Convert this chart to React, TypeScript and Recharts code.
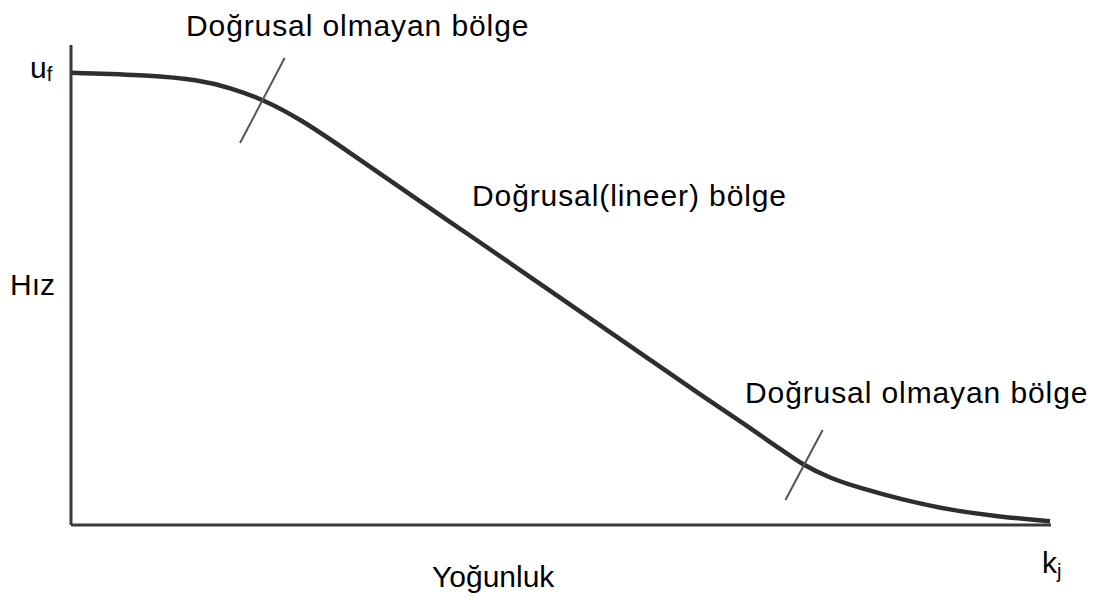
import React from "react";
import {
  ComposedChart,
  Line,
  XAxis,
  YAxis,
  ReferenceLine,
  Customized,
} from "recharts";

// speed–density curve (normalised: density 0..100, speed 0..100)
const density = [0, 8.0, 13.2, 16.2, 19.5, 23.4, 28.5, 33.6, 38.7, 43.8, 48.9, 54.0, 59.1, 64.2, 69.3, 72.4, 74.7, 77.4, 80.5, 84.6, 89.7, 94.8, 99.9];
const speed = [94.2, 93.75, 92.7, 91.1, 88.75, 84.6, 77.5, 70.3, 63.1, 56.0, 48.75, 41.6, 34.4, 27.2, 20.2, 15.8, 12.5, 9.8, 7.7, 5.4, 3.1, 1.7, 0.8];

// free-flow speed and jam density tick positions
const freeFlowSpeed = 94.2;
const jamDensity = 100;

// short slashes marking where the linear region starts and ends
const upperMarker = [
  { x: 17.25, y: 79.6 },
  { x: 21.8, y: 97.3 },
];
const lowerMarker = [
  { x: 72.9, y: 5.2 },
  { x: 76.7, y: 19.8 },
];

const data = density.map((k, i) => ({ k, u: speed[i] }));

const FONT = "'Liberation Sans', Arial, sans-serif";

const UfTick = ({ x, y }: any) => (
  <text x={x - 41} y={y + 5} fontFamily={FONT} fontSize={30} fill="#000">
    u
    <tspan fontSize={20} dy={3}>f</tspan>
  </text>
);

const KjTick = ({ x, y }: any) => (
  <text x={x - 9} y={y + 48} fontFamily={FONT} fontSize={30} fill="#000">
    k
    <tspan fontSize={20} dy={5}>j</tspan>
  </text>
);

const Annotations = () => (
  <g fontFamily={FONT} fontSize={30} fill="#000">
    <text x={186} y={36} letterSpacing={0.9}>Doğrusal olmayan bölge</text>
    <text x={472} y={206} letterSpacing={0.9}>Doğrusal(lineer) bölge</text>
    <text x={745} y={403} letterSpacing={0.9}>Doğrusal olmayan bölge</text>
    <text x={10} y={295}>Hız</text>
    <text x={432} y={587}>Yoğunluk</text>
  </g>
);

export default function App() {
  return (
    <div style={{ width: 1103, height: 600, background: "#fff" }}>
      <style>{`body { margin: 0; }`}</style>
      <ComposedChart
        width={1103}
        height={600}
        data={data}
        margin={{ top: 45, right: 52, bottom: 15, left: 11 }}
      >
        <XAxis
          dataKey="k"
          type="number"
          domain={[0, 100]}
          ticks={[jamDensity]}
          tick={<KjTick />}
          tickLine={false}
          tickSize={0}
          tickMargin={0}
          axisLine={{ stroke: "#3a3a3a", strokeWidth: 3 }}
          height={60}
        />
        <YAxis
          type="number"
          domain={[0, 100]}
          ticks={[freeFlowSpeed]}
          tick={<UfTick />}
          tickLine={false}
          tickSize={0}
          tickMargin={0}
          axisLine={{ stroke: "#3a3a3a", strokeWidth: 3 }}
          width={60}
        />
        <Line
          type="basis"
          dataKey="u"
          stroke="#2e2e2e"
          strokeWidth={4.5}
          dot={false}
          activeDot={false}
          isAnimationActive={false}
        />
        <ReferenceLine
          segment={upperMarker}
          stroke="#555"
          strokeWidth={2}
          ifOverflow="visible"
        />
        <ReferenceLine
          segment={lowerMarker}
          stroke="#555"
          strokeWidth={2}
          ifOverflow="visible"
        />
        <Customized component={<Annotations />} />
      </ComposedChart>
    </div>
  );
}
